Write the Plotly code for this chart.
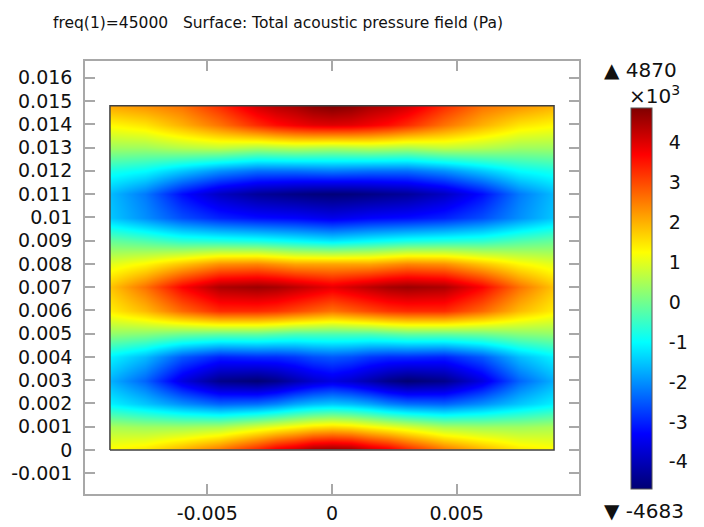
import plotly.graph_objects as go

# Grid coordinates of the sampled field (m)
x_pts = [-0.0089, -0.0075, -0.006, -0.0045, -0.003, -0.00225, -0.0015, -0.00075, 0.0,
         0.00075, 0.0015, 0.00225, 0.003, 0.0045, 0.006, 0.0075, 0.0089]
y_pts = [0.0, 0.001, 0.002, 0.003, 0.004, 0.005, 0.006, 0.007,
         0.008, 0.009, 0.010, 0.011, 0.012, 0.013, 0.014, 0.0148]

# Total acoustic pressure (Pa), one row per y, columns follow x_pts
p_rows = [
    [1300, 1500, 2000, 2600, 3400, 3900, 4200, 4600, 4700, 4600, 4200, 3900, 3400, 2600, 2000, 1500, 1300],
    [500, 400, 400, 500, 900, 1100, 1300, 1500, 1600, 1500, 1300, 1100, 900, 500, 400, 400, 500],
    [-1100, -1500, -2000, -2400, -2300, -2100, -1800, -1600, -1500, -1600, -1800, -2100, -2300, -2400, -2000, -1500, -1100],
    [-1700, -2400, -3600, -4450, -4660, -4450, -4100, -3800, -3600, -3800, -4100, -4450, -4683, -4450, -3600, -2400, -1700],
    [-1100, -1600, -2500, -3000, -2900, -2900, -2800, -2600, -2500, -2600, -2800, -2900, -2900, -3000, -2500, -1600, -1100],
    [300, 200, 0, -100, -100, -200, -300, -300, -300, -300, -300, -200, -100, -100, 0, 200, 300],
    [1400, 1900, 2700, 3300, 3300, 3200, 3000, 2800, 2600, 2800, 3000, 3200, 3300, 3300, 2700, 1900, 1400],
    [1800, 2600, 3700, 4450, 4600, 4500, 4300, 4100, 3900, 4100, 4300, 4500, 4600, 4450, 3700, 2600, 1800],
    [1000, 1300, 1800, 2300, 2400, 2250, 2100, 2100, 2100, 2100, 2100, 2250, 2400, 2300, 1800, 1300, 1000],
    [-100, -300, -600, -700, -800, -900, -1000, -1100, -1200, -1100, -1000, -900, -800, -700, -600, -300, -100],
    [-1500, -2000, -2600, -3000, -3200, -3250, -3300, -3400, -3500, -3400, -3300, -3250, -3200, -3000, -2600, -2000, -1500],
    [-1600, -2200, -3200, -3900, -4300, -4400, -4500, -4580, -4620, -4580, -4500, -4400, -4300, -3900, -3200, -2200, -1600],
    [-800, -1000, -1500, -2000, -2300, -2300, -2300, -2250, -2200, -2250, -2300, -2300, -2300, -2000, -1500, -1000, -800],
    [400, 400, 600, 700, 500, 550, 600, 550, 500, 550, 600, 550, 500, 700, 600, 400, 400],
    [1300, 1500, 2000, 2600, 3300, 3600, 3800, 3950, 4000, 3950, 3800, 3600, 3300, 2600, 2000, 1500, 1300],
    [2100, 2300, 2600, 3300, 4100, 4350, 4500, 4750, 4870, 4750, 4500, 4350, 4100, 3300, 2600, 2300, 2000],
]

# Axis ticks
x_ticks = [-0.005, 0.0, 0.005]
x_tick_text = ["-0.005", "0", "0.005"]
y_ticks = [-0.001, 0.0, 0.001, 0.002, 0.003, 0.004, 0.005, 0.006, 0.007,
           0.008, 0.009, 0.01, 0.011, 0.012, 0.013, 0.014, 0.015, 0.016]
y_tick_text = ["-0.001", "0", "0.001", "0.002", "0.003", "0.004", "0.005",
               "0.006", "0.007", "0.008", "0.009", "0.01", "0.011", "0.012",
               "0.013", "0.014", "0.015", "0.016"]
cb_ticks = [-4000, -3000, -2000, -1000, 0, 1000, 2000, 3000, 4000]
cb_tick_text = ["-4", "-3", "-2", "-1", "0", "1", "2", "3", "4"]

p_min = min(min(r) for r in p_rows)
p_max = max(max(r) for r in p_rows)

# Rainbow colour table, anchored at pressure values (Pa)
rainbow = [
    (p_min, "rgb(0,0,115)"),
    (-3300, "rgb(0,0,255)"),
    (-1000, "rgb(0,255,255)"),
    (1250, "rgb(255,255,0)"),
    (3700, "rgb(255,0,0)"),
    (p_max, "rgb(128,0,0)"),
]
colorscale = [[(v - p_min) / (p_max - p_min), c] for v, c in rainbow]

FONT = "DejaVu Sans"
TXT = "#111111"

# plot-area pixel frame used for paper-coordinate placement of side items
L, R, T, B = 85, 579, 61, 494
def px(xp):
    return (xp - L) / (R - L)
def py(yp):
    return (B - yp) / (B - T)

# colour bar geometry (pixels)
CB_L, CB_R, CB_T, CB_B = 631, 652, 108, 489
def cb_py(v):
    return CB_B - (v - p_min) / (p_max - p_min) * (CB_B - CB_T)

fig = go.Figure()

fig.add_trace(go.Contour(
    x=x_pts, y=y_pts, z=p_rows,
    colorscale=colorscale,
    zmin=p_min, zmax=p_max, zauto=False,
    contours=dict(coloring="heatmap", showlines=False,
                  start=p_min, end=p_max, size=(p_max - p_min) / 200),
    line=dict(width=0),
    hoverinfo="skip",
    colorbar=dict(
        x=px(CB_L), xanchor="left",
        y=py((CB_T + CB_B) / 2), yanchor="middle",
        thickness=CB_R - CB_L, thicknessmode="pixels",
        len=CB_B - CB_T, lenmode="pixels",
        outlinecolor="#555555", outlinewidth=1,
        tickvals=cb_ticks, ticktext=cb_tick_text,
        ticks="outside", ticklen=13, tickcolor="rgba(0,0,0,0)", tickwidth=1,
        tickfont=dict(family=FONT, size=19, color=TXT),
        xpad=0, ypad=0,
    ),
))

# Outline of the computational domain
x0, x1 = min(x_pts), max(x_pts)
y0, y1 = min(y_pts), max(y_pts)
fig.add_trace(go.Scatter(
    x=[x0, x1, x1, x0, x0], y=[y0, y0, y1, y1, y0],
    mode="lines", line=dict(color="#404040", width=1.5),
    hoverinfo="skip", showlegend=False,
))

# short tick dashes on both inner edges of the colour bar
shapes = []
for v in cb_ticks:
    yy = py(cb_py(v))
    for xa, xb in ((CB_L, CB_L + 6), (CB_R - 6, CB_R)):
        shapes.append(dict(type="line", xref="paper", yref="paper",
                           x0=px(xa), x1=px(xb), y0=yy, y1=yy,
                           line=dict(color="#444444", width=1)))

axis_common = dict(
    showgrid=False, zeroline=False, automargin=False,
    showline=True, linecolor="#a8a8a8", linewidth=1.5, mirror="ticks",
    ticks="inside", ticklen=10, tickcolor="#a8a8a8", tickwidth=1.5,
    tickfont=dict(family=FONT, size=19, color=TXT),
)

fig.update_layout(
    width=704, height=527,
    margin=dict(l=L, r=704 - R, t=T, b=527 - B, autoexpand=False),
    paper_bgcolor="white", plot_bgcolor="white",
    showlegend=False,
    shapes=shapes,
    xaxis=dict(range=[-0.0099, 0.0099], tickvals=x_ticks, ticktext=x_tick_text,
               ticklabelstandoff=1, **axis_common),
    yaxis=dict(range=[-0.00189, 0.01672], tickvals=y_ticks, ticktext=y_tick_text,
               ticklabelstandoff=7, **axis_common),
    annotations=[
        dict(text="freq(1)=45000   Surface: Total acoustic pressure field (Pa)",
             xref="paper", yref="paper", x=px(278), y=py(23),
             xanchor="center", yanchor="middle", showarrow=False,
             font=dict(family=FONT, size=15.5, color=TXT)),
        dict(text="▲ %d" % p_max,
             xref="paper", yref="paper", x=px(602), y=py(70),
             xanchor="left", yanchor="middle", showarrow=False,
             font=dict(family=FONT, size=20, color=TXT)),
        dict(text="×10<sup>3</sup>",
             xref="paper", yref="paper", x=px(682), y=py(95),
             xanchor="right", yanchor="middle", showarrow=False,
             font=dict(family=FONT, size=20, color=TXT)),
        dict(text="▼ %d" % p_min,
             xref="paper", yref="paper", x=px(602), y=py(511),
             xanchor="left", yanchor="middle", showarrow=False,
             font=dict(family=FONT, size=20, color=TXT)),
    ],
)

fig.write_html("out.html")
